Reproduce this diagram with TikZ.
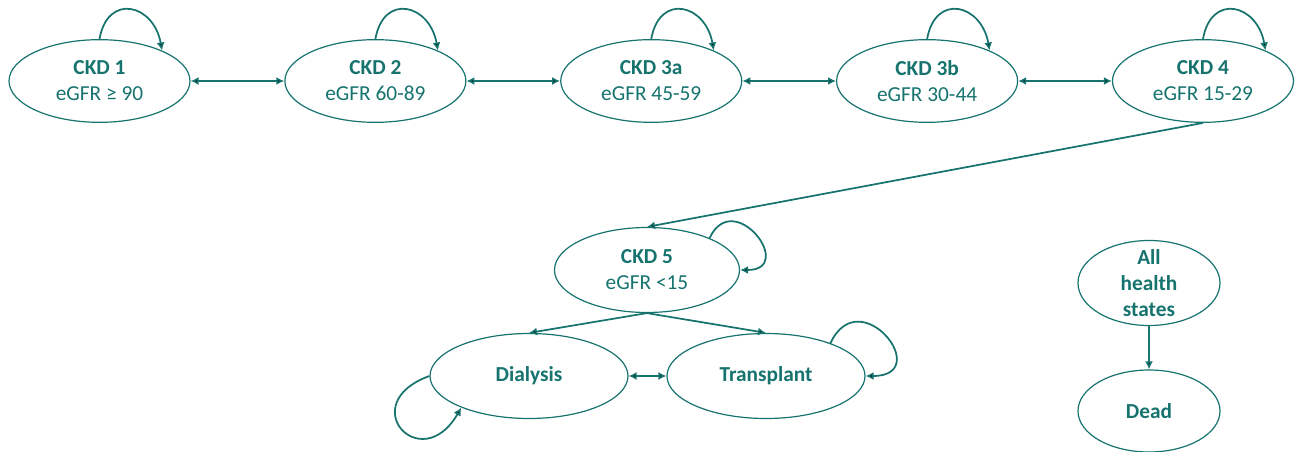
\documentclass[tikz,border=0pt]{standalone}
\usepackage{fontspec}
\setmainfont{Carlito}
\usetikzlibrary{positioning, arrows.meta, shapes.geometric}
\definecolor{ckd-teal}{RGB}{22,115,110}

\begin{document}
\begin{tikzpicture}[x=0.75pt, y=-0.75pt, node distance=70.25pt,
		every node/.style={font=\fontsize{16}{19.5}\selectfont, text=ckd-teal},
		hstate/.style={ellipse, draw=ckd-teal, line width=0.9pt, inner sep=0pt, align=center,
			minimum width=135.75pt, minimum height=62pt},
		>={Latex[length=6pt,width=6pt]},
		link/.style={draw=ckd-teal, line width=1.3pt},
		selfloop/.style={->, out=80, in=100, looseness=1.9}]
			\useasboundingbox (0,0) rectangle (1295,452);
			% CKD stages
			\node[hstate] (ckd1) at (99.5,81) {\textbf{CKD 1}\\eGFR ≥ 90};
			\node[hstate, right=of ckd1] (ckd2) {\textbf{CKD 2}\\eGFR 60-89};
			\node[hstate, right=of ckd2] (ckd3a) {\textbf{CKD 3a}\\eGFR 45-59};
			\node[hstate, right=of ckd3a] (ckd3b) {\textbf{CKD 3b}\\eGFR 30-44};
			\node[hstate, right=of ckd3b] (ckd4) {\textbf{CKD 4}\\eGFR 15-29};
			\node[hstate, minimum width=138.75pt, minimum height=63.75pt] (ckd5) at (647,270) {\textbf{CKD 5}\\eGFR <15};
			% renal replacement
			\node[hstate, minimum width=148.5pt, minimum height=63.75pt] (dial) at (529,376) {\textbf{Dialysis}};
			\node[hstate, minimum width=148.5pt, minimum height=63.75pt] (trans) at (766,376) {\textbf{Transplant}};
			% death
			\node[hstate, minimum width=106.5pt, minimum height=63.75pt, inner sep=-5pt] (all) at (1149,283) {\textbf{All}\\\textbf{health}\\\textbf{states}};
			\node[hstate, minimum width=106.5pt, minimum height=61.5pt] (dead) at (1149,411) {\textbf{Dead}};
			\draw[link]
			(ckd1) edge[<->] (ckd2)
			(ckd2) edge[<->] (ckd3a)
			(ckd3a) edge[<->] (ckd3b)
			(ckd3b) edge[<->] (ckd4)
			(ckd4.south) edge[->] (ckd5.north)
			(ckd5.south) edge[->] (dial.north)
			(ckd5.south) edge[->] (trans.north)
			(dial) edge[<->] (trans)
			(all) edge[->] (dead);
			\draw[link]
			(ckd1.north) edge[selfloop] (ckd1.26)
			(ckd2.north) edge[selfloop] (ckd2.26)
			(ckd3a.north) edge[selfloop] (ckd3a.26)
			(ckd3b.north) edge[selfloop] (ckd3b.26)
			(ckd4.north) edge[selfloop] (ckd4.26)
			(ckd5.27) edge[->, out=65, in=0, looseness=3.3] (ckd5.east)
			(trans.27) edge[->, out=65, in=0, looseness=3.7] (trans.east)
			(dial.west) edge[->, out=200, in=240, looseness=4.6] (dial.-155);
		\end{tikzpicture}
\end{document}
